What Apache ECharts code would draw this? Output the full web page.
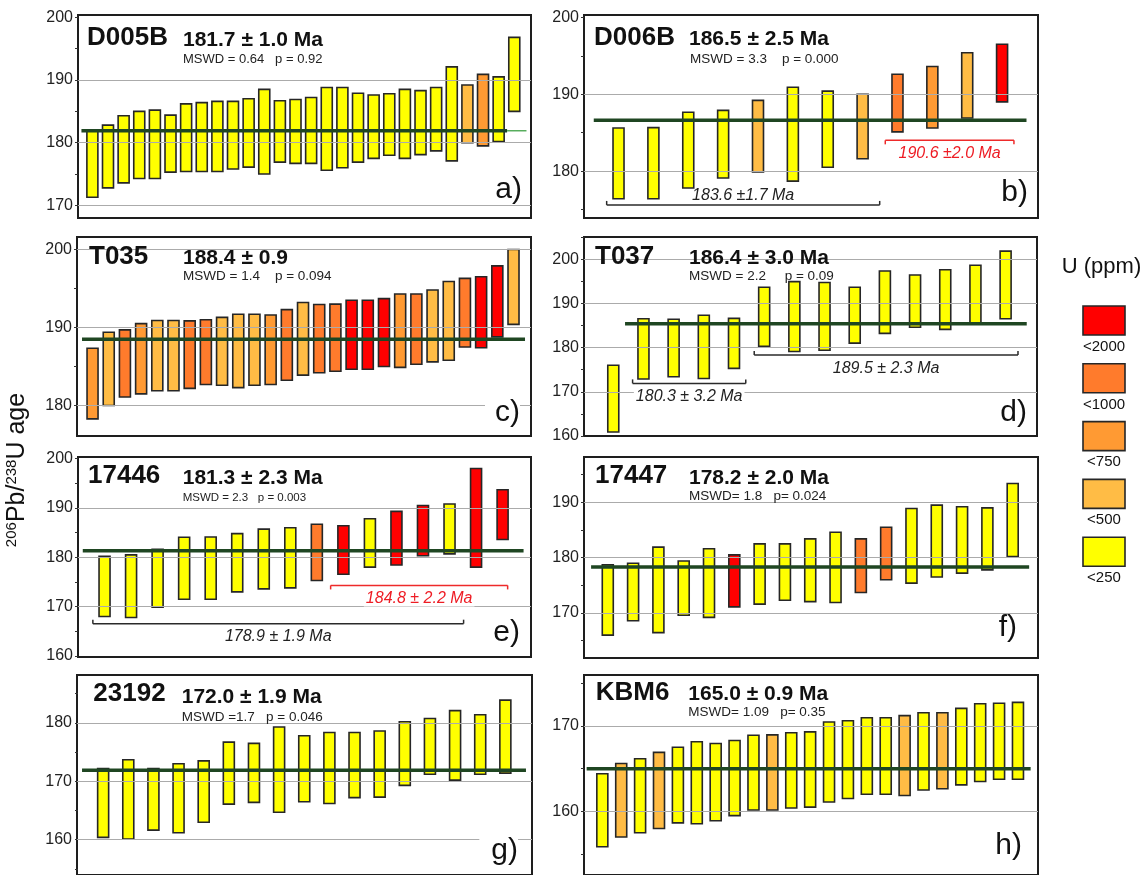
<!DOCTYPE html>
<html><head><meta charset="utf-8">
<script src="https://cdn.jsdelivr.net/npm/echarts@6/dist/echarts.min.js"></script>
<style>html,body{margin:0;padding:0;background:#fff}#c{width:1146px;height:875px}</style>
</head><body><div id="c"></div>
<script>
// ---------- DATA ----------
const uKeys = [2000, 1000, 750, 500, 250];
const uLabels = ['<2000', '<1000', '<750', '<500', '<250'];
const legendTitle = 'U (ppm)';

// a) D005B
const aName = 'D005B', aAge = '181.7 ± 1.0 Ma', aStats = 'MSWD = 0.64   p = 0.92', aTag = 'a)';
const aLow  = [171.3,172.8,173.6,174.3,174.3,175.3,175.4,175.4,175.4,175.8,176.1,175.0,176.9,176.7,176.7,175.6,176.0,176.9,177.5,178.0,177.5,178.1,178.7,177.1,180.0,179.5,180.2,185.0];
const aHigh = [181.9,182.8,184.3,185.0,185.2,184.4,186.2,186.4,186.6,186.6,187.0,188.5,186.7,186.9,187.2,188.8,188.8,187.9,187.6,187.8,188.5,188.3,188.8,192.1,189.2,190.9,190.5,196.8];
const aU    = [250,250,250,250,250,250,250,250,250,250,250,250,250,250,250,250,250,250,250,250,250,250,250,250,500,750,250,250];
const aMean = 181.9;
const aBrackets = [];

// b) D006B
const bName = 'D006B', bAge = '186.5 ± 2.5 Ma', bStats = 'MSWD = 3.3    p = 0.000', bTag = 'b)';
const bLow  = [176.4,176.4,177.8,179.1,179.9,178.7,180.5,181.6,185.1,185.6,186.9,189.0];
const bHigh = [185.6,185.65,187.65,187.9,189.2,190.9,190.4,190.0,192.6,193.6,195.4,196.5];
const bU    = [250,250,250,250,500,250,250,500,1000,750,500,2000];
const bMean = 186.6;
const bBrackets = [
  {from: 0.66, to: 8.49, y: 175.6, text: '183.6 ±1.7 Ma', red: false, above: true},
  {from: 8.65, to: 12.34, y: 184.0, text: '190.6 ±2.0 Ma', red: true, above: false}
];

// c) T035
const cName = 'T035', cAge = '188.4 ± 0.9', cStats = 'MSWD = 1.4    p = 0.094', cTag = 'c)';
const cLow  = [178.3,180.0,181.1,181.5,181.9,181.9,182.2,182.7,182.6,182.3,182.6,182.7,183.25,183.9,184.2,184.4,184.65,184.65,185.0,184.9,185.3,185.6,185.8,187.5,187.4,188.8,190.4];
const cHigh = [187.35,189.4,189.7,190.5,190.9,190.9,190.85,191.0,191.3,191.7,191.7,191.6,192.3,193.2,192.95,193.0,193.5,193.5,193.7,194.3,194.3,194.8,195.9,196.3,196.5,197.9,200.0];
const cU    = [750,500,1000,750,500,500,1000,1000,500,500,500,750,1000,500,1000,1000,2000,2000,2000,750,1000,500,500,1000,2000,2000,500];
const cMean = 188.5;
const cBrackets = [];

// d) T037
const dName = 'T037', dAge = '186.4 ± 3.0 Ma', dStats = 'MSWD = 2.2     p = 0.09', dTag = 'd)';
const dLow  = [160.9,172.9,173.4,173.0,175.3,180.3,179.1,179.4,181.0,183.2,184.6,184.1,185.6,186.5];
const dHigh = [176.0,186.5,186.4,187.3,186.6,193.65,194.9,194.7,193.65,197.3,196.4,197.6,198.6,201.8];
const dU    = [250,250,250,250,250,250,250,250,250,250,250,250,250,250];
const dMean = 185.4;
const dBrackets = [
  {from: 1.64, to: 5.39, y: 171.9, text: '180.3 ± 3.2 Ma', red: false, above: false},
  {from: 5.67, to: 14.41, y: 178.3, text: '189.5 ± 2.3 Ma', red: false, above: false}
];

// e) 17446
const eName = '17446', eAge = '181.3 ± 2.3 Ma', eStats = 'MSWD = 2.3   p = 0.003', eTag = 'e)';
const eLow  = [168.0,167.8,169.9,171.5,171.5,173.0,173.6,173.8,175.3,176.55,178.0,178.45,180.3,180.7,178.0,183.6];
const eHigh = [180.2,180.5,181.6,184.05,184.1,184.8,185.7,186.0,186.7,186.4,187.8,189.3,190.5,190.8,198.0,193.7];
const eU    = [250,250,250,250,250,250,250,250,1000,2000,250,2000,2000,250,2000,2000];
const eMean = 181.35;
const eBrackets = [
  {from: 9.52, to: 16.19, y: 174.3, text: '184.8 ± 2.2 Ma', red: true, above: false},
  {from: 0.56, to: 14.53, y: 166.55, text: '178.9 ± 1.9 Ma', red: false, above: false}
];

// f) 17447
const fName = '17447', fAge = '178.2 ± 2.0 Ma', fStats = 'MSWD= 1.8   p= 0.024', fTag = 'f)';
const fLow  = [166.0,168.6,166.45,169.6,169.2,171.1,171.6,172.3,172.05,171.9,173.7,176.0,175.4,176.5,177.2,177.8,180.2];
const fHigh = [178.7,179.0,181.9,179.4,181.6,180.5,182.5,182.5,183.4,184.6,183.4,185.5,188.9,189.5,189.2,189.0,193.4];
const fU    = [250,250,250,250,250,2000,250,250,250,250,1000,1000,250,250,250,250,250];
const fMean = 178.3;
const fBrackets = [];

// g) 23192
const gName = '23192', gAge = '172.0 ± 1.9 Ma', gStats = 'MSWD =1.7   p = 0.046', gTag = 'g)';
const gLow  = [160.4,160.1,161.65,161.2,163.0,166.1,166.4,164.7,166.5,166.2,167.2,167.3,169.3,171.2,170.2,171.2,171.4];
const gHigh = [172.2,173.7,172.2,173.0,173.5,176.7,176.5,179.3,177.8,178.35,178.35,178.6,180.2,180.75,182.1,181.4,183.9];
const gU    = [250,250,250,250,250,250,250,250,250,250,250,250,250,250,250,250,250];
const gMean = 171.9;
const gBrackets = [];

// h) KBM6
const hName = 'KBM6', hAge = '165.0 ± 0.9 Ma', hStats = 'MSWD= 1.09   p= 0.35', hTag = 'h)';
const hLow  = [155.85,157.0,157.5,158.0,158.65,158.55,158.9,159.5,160.15,160.15,160.4,160.5,161.1,161.5,162.0,162.0,161.85,162.5,162.65,163.1,163.5,163.75,163.75];
const hHigh = [164.4,165.6,166.15,166.9,167.5,168.15,167.95,168.3,168.9,168.95,169.2,169.3,170.45,170.6,170.95,170.95,171.2,171.55,171.55,172.05,172.6,172.65,172.75];
const hU    = [250,500,250,500,250,250,250,250,250,500,250,250,250,250,250,250,500,250,500,250,250,250,250];
const hMean = 165.0;
const hBrackets = [];

// ---------- STYLE / LAYOUT ----------
const FF = '"Liberation Sans", Arial, Helvetica, sans-serif';
const U_COLOR = {2000: '#ff0000', 1000: '#ff7b2c', 750: '#ff9a33', 500: '#ffbc45', 250: '#ffff00'};
const MEAN_COLOR = '#1f4622';

const layout = {
  a: {left: 78, top: 15, width: 453, height: 203, ymin: 167.99, ymax: 200.37, xmin: 0.08, xmax: 29.07, mean: [0.3, 27.54], meanExt: 28.78,
      nameXY: [87, 37.5], ageXY: [183, 40], statsXY: [183, 59.5], statsSize: 13, tagXY: [522, 190], tagPad: 0},
  b: {left: 584, top: 15, width: 454, height: 203, ymin: 173.9, ymax: 200.3, xmin: 0.01, xmax: 13.03, mean: [0.29, 12.70],
      nameXY: [594, 37.5], ageXY: [689, 39.7], statsXY: [690, 59], statsSize: 13.5, tagXY: [1028, 193], tagPad: 0},
  c: {left: 77, top: 237, width: 454, height: 199, ymin: 176.1, ymax: 201.6, xmin: 0.04, xmax: 28.08, mean: [0.35, 27.71],
      nameXY: [89, 257], ageXY: [183, 258.7], statsXY: [183, 276], statsSize: 13.5, tagXY: [520, 413], tagPad: 10, mask: [79, 243, 247, 13]},
  d: {left: 584, top: 237, width: 453, height: 199, ymin: 160, ymax: 205, xmin: 0.03, xmax: 15.04, mean: [1.39, 14.70],
      nameXY: [595, 257], ageXY: [689, 258.7], statsXY: [689, 276], statsSize: 13.5, tagXY: [1027, 413], tagPad: 0, mask: [594, 253, 253, 12]},
  e: {left: 78, top: 457, width: 453, height: 200, ymin: 159.8, ymax: 200.32, xmin: 0, xmax: 17.07, mean: [0.18, 16.79],
      nameXY: [88, 475.8], ageXY: [182.7, 478.3], statsXY: [182.7, 497.5], statsSize: 11.5, tagXY: [520, 633], tagPad: 0},
  f: {left: 584, top: 457, width: 454, height: 201, ymin: 161.86, ymax: 198.2, xmin: 0.06, xmax: 18.0, mean: [0.34, 17.65],
      nameXY: [595, 475.8], ageXY: [689, 478], statsXY: [689, 496.7], statsSize: 13.5, tagXY: [1017, 628], tagPad: 24},
  g: {left: 77, top: 675, width: 455, height: 215, ymin: 153.96, ymax: 188.2, xmin: -0.04, xmax: 18.06, mean: [0.16, 17.82],
      nameXY: [93.3, 693.8], ageXY: [181.7, 696.8], statsXY: [181.7, 716.8], statsSize: 13.5, tagXY: [518, 851], tagPad: 12},
  h: {left: 584, top: 675, width: 454, height: 215, ymin: 152.55, ymax: 175.96, xmin: 0.03, xmax: 24.06, mean: [0.17, 23.67],
      nameXY: [595.7, 692.7], ageXY: [688.3, 694.7], statsXY: [688.3, 712.3], statsSize: 13.5, tagXY: [1022, 846], tagPad: 0}
};

const panels = [
  {id: 'a', name: aName, age: aAge, stats: aStats, tag: aTag, low: aLow, high: aHigh, u: aU, mean: aMean, brackets: aBrackets},
  {id: 'b', name: bName, age: bAge, stats: bStats, tag: bTag, low: bLow, high: bHigh, u: bU, mean: bMean, brackets: bBrackets},
  {id: 'c', name: cName, age: cAge, stats: cStats, tag: cTag, low: cLow, high: cHigh, u: cU, mean: cMean, brackets: cBrackets},
  {id: 'd', name: dName, age: dAge, stats: dStats, tag: dTag, low: dLow, high: dHigh, u: dU, mean: dMean, brackets: dBrackets},
  {id: 'e', name: eName, age: eAge, stats: eStats, tag: eTag, low: eLow, high: eHigh, u: eU, mean: eMean, brackets: eBrackets},
  {id: 'f', name: fName, age: fAge, stats: fStats, tag: fTag, low: fLow, high: fHigh, u: fU, mean: fMean, brackets: fBrackets},
  {id: 'g', name: gName, age: gAge, stats: gStats, tag: gTag, low: gLow, high: gHigh, u: gU, mean: gMean, brackets: gBrackets},
  {id: 'h', name: hName, age: hAge, stats: hStats, tag: hTag, low: hLow, high: hHigh, u: hU, mean: hMean, brackets: hBrackets}
];

function multiples(step, lo, hi) {
  const out = [];
  for (let v = Math.ceil(lo / step) * step; v <= hi + 1e-9; v += step) out.push(v);
  return out;
}

const grids = [], xAxes = [], yAxes = [], series = [], graphics = [];

panels.forEach((p, i) => {
  const L = layout[p.id];
  grids.push({left: L.left, top: L.top, width: L.width, height: L.height, show: true,
    borderColor: '#1e1e1e', borderWidth: 2, backgroundColor: 'transparent'});
  xAxes.push({gridIndex: i, type: 'value', min: L.xmin, max: L.xmax, show: false});
  yAxes.push({gridIndex: i, type: 'value', min: L.ymin, max: L.ymax,
    axisLine: {show: false}, splitLine: {show: false},
    axisTick: {show: true, length: 3, inside: false, customValues: multiples(5, L.ymin, L.ymax), lineStyle: {color: '#333', width: 1}},
    axisLabel: {customValues: multiples(10, L.ymin - 0.05, L.ymax + 0.05), fontSize: 16, color: '#222', fontFamily: FF, margin: 5}
  });

  // gridlines
  const gv = multiples(10, L.ymin + 0.5, L.ymax - 0.5);
  series.push({type: 'line', xAxisIndex: i, yAxisIndex: i, data: [], z: 1, silent: true,
    markLine: {silent: true, symbol: ['none', 'none'], label: {show: false}, animation: false,
      lineStyle: {color: '#ababab', width: 1, type: 'solid'}, data: gv.map(v => ({yAxis: v}))}});

  // bars
  series.push({type: 'custom', xAxisIndex: i, yAxisIndex: i, z: 3, clip: false,
    data: p.low.map((lo, k) => [k + 1, lo, p.high[k], p.u[k]]),
    encode: {x: 0, y: [1, 2]},
    renderItem: (params, api) => {
      const x = api.value(0);
      const top = api.coord([x, api.value(2)]);
      const bot = api.coord([x, api.value(1)]);
      const w = 11;
      return {type: 'rect', shape: {x: top[0] - w / 2, y: top[1], width: w, height: bot[1] - top[1]},
        style: {fill: U_COLOR[api.value(3)], stroke: '#262626', lineWidth: 1.6}};
    }});

  // weighted mean line
  const meanData = [[L.mean[0], L.mean[1], p.mean, 1]];
  if (L.meanExt) meanData.push([L.mean[1], L.meanExt, p.mean, 0]);
  series.push({type: 'custom', xAxisIndex: i, yAxisIndex: i, z: 4, clip: false,
    data: meanData, encode: {x: [0, 1], y: 2},
    renderItem: (params, api) => {
      const a = api.coord([api.value(0), api.value(2)]);
      const b = api.coord([api.value(1), api.value(2)]);
      const thick = api.value(3) === 1;
      return {type: 'line', shape: {x1: a[0], y1: a[1], x2: b[0], y2: b[1]},
        style: {stroke: thick ? MEAN_COLOR : '#2e9a36', lineWidth: thick ? 3.5 : 1.2}};
    }});

  // group brackets
  if (p.brackets.length) {
    const br = p.brackets;
    series.push({type: 'custom', xAxisIndex: i, yAxisIndex: i, z: 5, clip: false,
      data: br.map(b => [b.from, b.to, b.y]), encode: {x: [0, 1], y: 2},
      renderItem: (params, api) => {
        const b = br[params.dataIndex];
        const s = api.coord([api.value(0), api.value(2)]);
        const e = api.coord([api.value(1), api.value(2)]);
        const col = b.red ? '#ee2a2a' : '#2a2a2a';
        const ls = {stroke: col, lineWidth: 1.5};
        const tk = b.red ? 4 : -4;
        return {type: 'group', children: [
          {type: 'line', shape: {x1: s[0], y1: s[1], x2: e[0], y2: e[1]}, style: ls},
          {type: 'line', shape: {x1: s[0], y1: s[1], x2: s[0], y2: s[1] + tk}, style: ls},
          {type: 'line', shape: {x1: e[0], y1: e[1], x2: e[0], y2: e[1] + tk}, style: ls},
          {type: 'text', x: (s[0] + e[0]) / 2, y: s[1] + (b.above ? -9 : 13),
            style: {text: b.text, fill: b.red ? '#ee1c24' : '#222', font: 'italic 16px ' + FF,
              textAlign: 'center', textVerticalAlign: 'middle', backgroundColor: b.above ? 'transparent' : '#fff', padding: [0, 2]}}
        ]};
      }});
  }

  // header masks
  if (L.mask) {
    graphics.push({type: 'rect', z: 2, silent: true, shape: {x: L.mask[0], y: L.mask[1], width: L.mask[2], height: L.mask[3]}, style: {fill: '#fff'}});
  }
  // header texts
  graphics.push({type: 'text', z: 10, x: L.nameXY[0], y: L.nameXY[1],
    style: {text: p.name, font: 'bold 26px ' + FF, fill: '#111', textAlign: 'left', textVerticalAlign: 'middle'}});
  graphics.push({type: 'text', z: 10, x: L.ageXY[0], y: L.ageXY[1],
    style: {text: p.age, font: 'bold 21px ' + FF, fill: '#111', textAlign: 'left', textVerticalAlign: 'middle'}});
  graphics.push({type: 'text', z: 10, x: L.statsXY[0], y: L.statsXY[1],
    style: {text: p.stats, font: L.statsSize + 'px ' + FF, fill: '#222', textAlign: 'left', textVerticalAlign: 'middle'}});
  graphics.push({type: 'text', z: 10, x: L.tagXY[0], y: L.tagXY[1],
    style: {text: p.tag, font: '30px ' + FF, fill: '#111', textAlign: 'right', textVerticalAlign: 'middle',
      backgroundColor: L.tagPad ? '#fff' : 'transparent', padding: [0, 0, 0, L.tagPad], lineHeight: 28}});
});

// legend
const LEG = {x: 1083, y0: 306, step: 57.8, w: 42, h: 29, labelDy: 40.7};
graphics.push({type: 'text', z: 10, x: 1101.5, y: 267,
  style: {text: legendTitle, font: '22px ' + FF, fill: '#111', textAlign: 'center', textVerticalAlign: 'middle'}});
uKeys.forEach((k, j) => {
  const y = LEG.y0 + j * LEG.step;
  graphics.push({type: 'rect', z: 10, shape: {x: LEG.x, y: y, width: LEG.w, height: LEG.h},
    style: {fill: U_COLOR[k], stroke: '#262626', lineWidth: 1.6}});
  graphics.push({type: 'text', z: 10, x: LEG.x + LEG.w / 2, y: y + LEG.labelDy,
    style: {text: uLabels[j], font: '15px ' + FF, fill: '#111', textAlign: 'center', textVerticalAlign: 'middle'}});
});

// y-axis title
graphics.push({type: 'text', z: 10, x: 17, y: 470, rotation: Math.PI / 2,
  style: {text: '{s|206}{m|Pb/}{s|238}{m|U age}', textAlign: 'center', textVerticalAlign: 'middle', fill: '#111',
    rich: {m: {fontSize: 25, fontFamily: FF, fill: '#111', verticalAlign: 'bottom'},
           s: {fontSize: 15, fontFamily: FF, fill: '#111', verticalAlign: 'top'}}}});

const chart = echarts.init(document.getElementById('c'), null, {renderer: 'canvas', width: 1146, height: 875});
chart.setOption({
  animation: false,
  backgroundColor: '#fff',
  grid: grids, xAxis: xAxes, yAxis: yAxes, series: series,
  graphic: {elements: graphics}
});
</script>
</body></html>
